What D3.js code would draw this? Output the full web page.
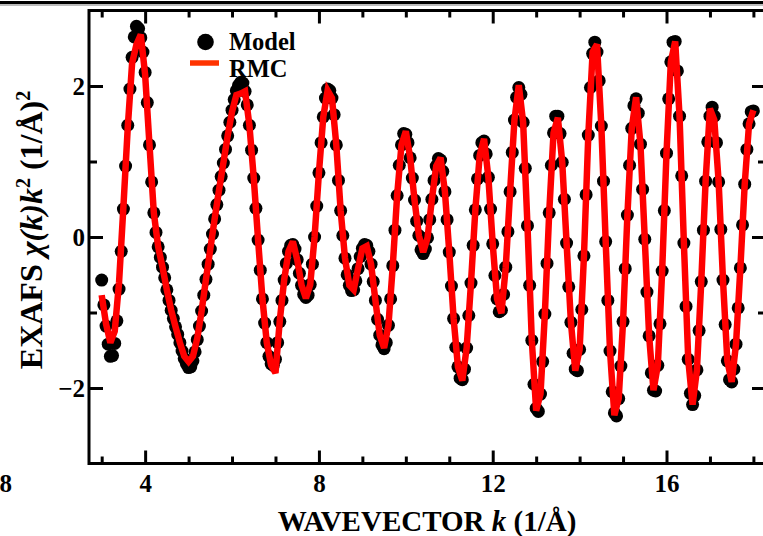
<!DOCTYPE html>
<html lang="en">

<head>
    <meta charset="UTF-8">
    <script src="https://d3js.org/d3.v7.min.js"></script>
    <style>
        body { margin: 0; background: #fff; }
        svg { display: block; }
    </style>
    <title>EXAFS model vs RMC</title>
</head>

<body>
    <script>
        // k grid: model points every 0.05 1/A, RMC curve every 0.1 1/A, both from 3 to 18
        const kStart = 3.0;
        const modelStep = 0.05;
        const rmcStep = 0.1;

        // Model chi(k)k^2 (one row per unit of k)
        const modelChi = [
            -0.57, -0.90, -1.18, -1.42, -1.58, -1.57, -1.41, -1.11, -0.69, -0.19, 0.37, 0.94, 1.48, 1.96, 2.38, 2.65, 2.79, 2.76, 2.64, 2.45,
            2.18, 1.78, 1.22, 0.73, 0.32, 0.06, -0.13, -0.27, -0.40, -0.54, -0.70, -0.84, -0.97, -1.08, -1.19, -1.29, -1.40, -1.51, -1.61, -1.68,
            -1.73, -1.72, -1.64, -1.52, -1.36, -1.18, -0.98, -0.77, -0.56, -0.36, -0.16, 0.04, 0.24, 0.43, 0.62, 0.80, 0.98, 1.16, 1.34, 1.52,
            1.68, 1.82, 1.94, 2.01, 2.05, 2.04, 1.93, 1.75, 1.48, 1.15, 0.78, 0.38, -0.04, -0.44, -0.82, -1.14, -1.40, -1.58, -1.68, -1.70,
            -1.62, -1.40, -1.12, -0.84, -0.57, -0.35, -0.19, -0.11, -0.10, -0.16, -0.30, -0.48, -0.64, -0.76, -0.80, -0.77, -0.63, -0.36, 0.00, 0.41,
            0.85, 1.25, 1.59, 1.84, 1.96, 1.94, 1.84, 1.62, 1.22, 0.75, 0.35, 0.02, -0.28, -0.50, -0.64, -0.71, -0.70, -0.58, -0.42, -0.26,
            -0.15, -0.10, -0.11, -0.19, -0.36, -0.59, -0.84, -1.09, -1.30, -1.43, -1.48, -1.40, -1.17, -0.82, -0.38, 0.09, 0.55, 0.95, 1.22, 1.37,
            1.36, 1.25, 1.05, 0.78, 0.49, 0.21, 0.02, -0.17, -0.22, -0.16, -0.01, 0.23, 0.50, 0.75, 0.94, 1.04, 1.02, 0.87, 0.60, 0.23,
            -0.20, -0.65, -1.08, -1.46, -1.72, -1.87, -1.89, -1.75, -1.47, -1.04, -0.61, -0.11, 0.36, 0.77, 1.08, 1.25, 1.27, 1.10, 0.79, 0.37,
            -0.09, -0.51, -0.82, -0.99, -0.97, -0.76, -0.40, 0.07, 0.60, 1.12, 1.55, 1.85, 1.98, 1.89, 1.52, 0.91, 0.15, -0.64, -1.37, -1.95,
            -2.27, -2.31, -2.08, -1.65, -1.02, -0.35, 0.32, 0.95, 1.38, 1.60, 1.60, 1.37, 0.99, 0.50, -0.08, -0.66, -1.13, -1.54, -1.75, -1.77,
            -1.49, -0.96, -0.25, 0.56, 1.35, 1.98, 2.43, 2.58, 2.45, 2.07, 1.47, 0.74, -0.06, -0.84, -1.51, -2.05, -2.33, -2.37, -2.14, -1.71,
            -1.12, -0.42, 0.29, 0.95, 1.44, 1.74, 1.83, 1.64, 1.23, 0.63, -0.03, -0.73, -1.31, -1.80, -2.03, -2.04, -1.70, -1.15, -0.45, 0.35,
            1.11, 1.83, 2.32, 2.58, 2.59, 2.20, 1.60, 0.81, -0.08, -0.92, -1.62, -2.07, -2.22, -2.10, -1.76, -1.24, -0.59, 0.09, 0.74, 1.26,
            1.60, 1.72, 1.60, 1.25, 0.73, 0.10, -0.57, -1.16, -1.64, -1.89, -1.92, -1.75, -1.42, -0.94, -0.41, 0.16, 0.70, 1.16, 1.50, 1.66,
            1.67
        ];

        // RMC fit chi(k)k^2
        const rmcChi = [
            -0.77, -1.15, -1.40, -1.25, -0.60, 0.40, 1.45, 2.30, 2.55, 2.68,
            2.15, 1.22, 0.32, -0.13, -0.40, -0.70, -0.97, -1.19, -1.40, -1.58,
            -1.65, -1.58, -1.34, -0.98, -0.56, -0.16, 0.24, 0.62, 0.98, 1.34,
            1.66, 1.88, 1.90, 1.93, 1.48, 0.78, -0.04, -0.82, -1.40, -1.70,
            -1.80, -1.10, -0.57, -0.19, -0.06, -0.30, -0.64, -0.81, -0.63, 0.00,
            0.85, 1.59, 1.94, 1.84, 1.22, 0.35, -0.28, -0.64, -0.70, -0.42,
            -0.15, -0.12, -0.36, -0.84, -1.30, -1.47, -1.17, -0.38, 0.55, 1.22,
            1.40, 1.05, 0.49, 0.02, -0.20, -0.01, 0.50, 0.94, 1.05, 0.60,
            -0.20, -1.08, -1.72, -1.90, -1.47, -0.61, 0.36, 1.08, 1.30, 0.79,
            -0.09, -0.82, -1.01, -0.40, 0.60, 1.55, 2.01, 1.52, 0.15, -1.37,
            -2.30, -2.08, -1.02, 0.32, 1.38, 1.58, 0.99, -0.08, -1.13, -1.77,
            -1.49, -0.25, 1.35, 2.45, 2.55, 1.47, -0.06, -1.51, -2.36, -2.14,
            -1.12, 0.29, 1.44, 1.85, 1.23, -0.03, -1.31, -2.03, -1.70, -0.45,
            1.11, 2.32, 2.59, 1.60, -0.08, -1.62, -2.22, -1.76, -0.59, 0.74,
            1.70, 1.55, 0.73, -0.57, -1.64, -1.92, -1.42, -0.41, 0.70, 1.50,
            1.68
        ];

        const xTicks = [4, 8, 12, 16];
        const xMinorTicks = [3, 5, 6, 7, 9, 10, 11, 13, 14, 15, 17, 18];
        const yTicks = [-2, 0, 2];
        const yMinorTicks = [-1, 1];
        const legendLabels = ['Model', 'RMC'];

        const W = 763, H = 536;
        const serif = "'Liberation Serif', 'Times New Roman', serif";

        const svg = d3.select('body').append('svg')
            .attr('width', W)
            .attr('height', H);

        // thin rule along the top edge of the page
        svg.append('line')
            .attr('x1', 0).attr('x2', W)
            .attr('y1', 2.5).attr('y2', 2.5)
            .attr('stroke', '#000').attr('stroke-width', 3);
        svg.append('line')
            .attr('x1', 0).attr('x2', W)
            .attr('y1', 5).attr('y2', 5)
            .attr('stroke', '#bbb').attr('stroke-width', 2);

        const x = d3.scaleLinear().domain([2.708, 18.29]).range([89, 766]);
        const y = d3.scaleLinear().domain([-3, 3]).range([463.5, 10.5]);

        const modelData = modelChi.map((v, i) => ({ k: kStart + i * modelStep, v: v }));
        const rmcData = rmcChi.map((v, i) => ({ k: kStart + i * rmcStep, v: v }));

        // Model points
        svg.append('g')
            .selectAll('circle')
            .data(modelData)
            .enter()
            .append('circle')
            .attr('cx', d => x(d.k))
            .attr('cy', d => y(d.v))
            .attr('r', 6.5)
            .attr('fill', '#000');

        // RMC curve
        const line = d3.line()
            .x(d => x(d.k))
            .y(d => y(d.v));

        svg.append('path')
            .datum(rmcData)
            .attr('d', line)
            .attr('fill', 'none')
            .attr('stroke', '#ff0000')
            .attr('stroke-width', 6.5)
            .attr('stroke-linejoin', 'miter')
            .attr('stroke-miterlimit', 3);

        // Frame
        svg.append('rect')
            .attr('x', 89).attr('y', 10.5)
            .attr('width', 766 - 89).attr('height', 463.5 - 10.5)
            .attr('fill', 'none')
            .attr('stroke', '#000')
            .attr('stroke-width', 3);

        // Axes with inward ticks
        function styleAxis(g) {
            g.select('.domain').remove();
            g.selectAll('line').attr('stroke', '#000').attr('stroke-width', 3);
            g.selectAll('text')
                .attr('font-family', serif)
                .attr('font-weight', 'bold')
                .attr('font-size', 25)
                .attr('fill', '#000');
        }

        const fmt = d3.format('d');

        svg.append('g')
            .attr('transform', 'translate(0,463.5)')
            .call(d3.axisBottom(x).tickValues(xTicks).tickSize(-13).tickPadding(11).tickFormat(fmt))
            .call(styleAxis);
        svg.append('g')
            .attr('transform', 'translate(0,463.5)')
            .call(d3.axisBottom(x).tickValues(xMinorTicks).tickSize(-7).tickFormat(''))
            .call(styleAxis);
        svg.append('g')
            .attr('transform', 'translate(0,10.5)')
            .call(d3.axisTop(x).tickValues(xTicks).tickSize(-13).tickFormat(''))
            .call(styleAxis);
        svg.append('g')
            .attr('transform', 'translate(0,10.5)')
            .call(d3.axisTop(x).tickValues(xMinorTicks).tickSize(-7).tickFormat(''))
            .call(styleAxis);

        svg.append('g')
            .attr('transform', 'translate(89,0)')
            .call(d3.axisLeft(y).tickValues(yTicks).tickSize(-14).tickPadding(4).tickFormat(fmt))
            .call(styleAxis);
        svg.append('g')
            .attr('transform', 'translate(89,0)')
            .call(d3.axisLeft(y).tickValues(yMinorTicks).tickSize(-8).tickFormat(''))
            .call(styleAxis);
        svg.append('g')
            .attr('transform', 'translate(766,0)')
            .call(d3.axisRight(y).tickValues(yTicks).tickSize(-14).tickFormat(''))
            .call(styleAxis);
        svg.append('g')
            .attr('transform', 'translate(766,0)')
            .call(d3.axisRight(y).tickValues(yMinorTicks).tickSize(-8).tickFormat(''))
            .call(styleAxis);

        // stray tick label of the neighbouring panel
        svg.append('text')
            .attr('x', 12).attr('y', 492)
            .attr('text-anchor', 'end')
            .attr('font-family', serif)
            .attr('font-weight', 'bold')
            .attr('font-size', 25)
            .text('8');

        // x-axis label
        const xLabel = svg.append('text')
            .attr('x', 427).attr('y', 531)
            .attr('text-anchor', 'middle')
            .attr('font-family', serif)
            .attr('font-weight', 'bold')
            .attr('font-size', 29);
        xLabel.append('tspan').text('WAVEVECTOR ');
        xLabel.append('tspan').attr('font-style', 'italic').text('k');
        xLabel.append('tspan').text(' (1/Å)');

        // y-axis label
        const yLabel = svg.append('text')
            .attr('transform', 'translate(42,230) rotate(-90)')
            .attr('text-anchor', 'middle')
            .attr('font-family', serif)
            .attr('font-weight', 'bold')
            .attr('font-size', 32);
        yLabel.append('tspan').text('EXAFS ');
        yLabel.append('tspan').attr('font-style', 'italic').text('χ(k)k');
        yLabel.append('tspan').attr('font-size', 20).attr('dy', -12).text('2');
        yLabel.append('tspan').attr('dy', 12).text(' (1/Å)');
        yLabel.append('tspan').attr('font-size', 20).attr('dy', -12).text('2');

        // Legend
        const legend = svg.append('g');
        legend.append('circle')
            .attr('cx', 205.5).attr('cy', 42)
            .attr('r', 8.3)
            .attr('fill', '#000');
        legend.append('line')
            .attr('x1', 190).attr('x2', 219)
            .attr('y1', 63).attr('y2', 63)
            .attr('stroke', '#ff3300')
            .attr('stroke-width', 5.5);
        legend.selectAll('text.lab')
            .data(legendLabels)
            .enter()
            .append('text')
            .attr('class', 'lab')
            .attr('x', 229)
            .attr('y', (d, i) => 50 + i * 27)
            .attr('font-family', serif)
            .attr('font-weight', 'bold')
            .attr('font-size', 24.5)
            .text(d => d);
    </script>
</body>

</html>
